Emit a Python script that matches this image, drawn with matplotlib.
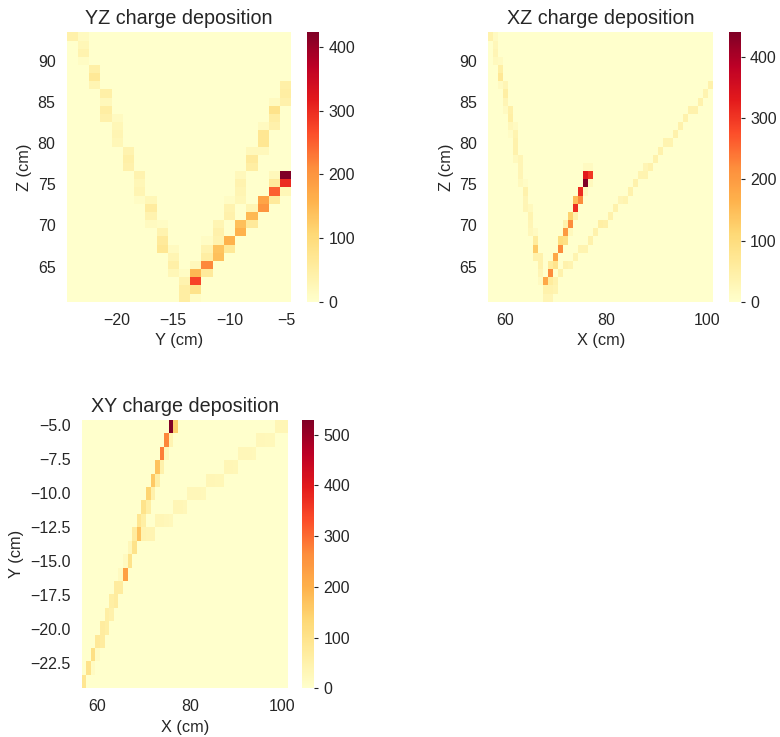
import numpy as np
import matplotlib
matplotlib.use("Agg")
import matplotlib.pyplot as plt

plt.rcParams["font.family"] = ["Liberation Sans", "DejaVu Sans"]
TEXT = "#262626"
plt.rcParams["text.color"] = TEXT
plt.rcParams["axes.labelcolor"] = TEXT
plt.rcParams["xtick.color"] = TEXT
plt.rcParams["ytick.color"] = TEXT

# Voxel grid (cm): lower edges and common bin width
X_LO, Y_LO, Z_LO, BIN = 56.7, -24.4, 60.75, 0.99
NX, NY, NZ = 45, 20, 33

# ---- YZ projection: (y bin, z bin, charge) ----
yz_y = [0, 1, 1, 1, 1, 2, 2, 2, 3, 3, 3, 3, 4, 4, 4, 4, 5, 5, 5, 6, 6, 6, 6,
        7, 7, 7, 7, 8, 8, 8, 8, 9, 9, 9, 9, 10, 10, 10, 10,
        19, 19, 19, 18, 18, 18, 18, 17, 17, 17, 17, 16, 16, 16, 15, 15, 15, 15,
        14, 14, 14, 13, 13, 13, 12, 12, 12, 11,
        19, 19, 19, 18, 18, 18, 18, 17, 17, 16, 16, 16, 15, 15, 14, 14, 13, 13,
        12, 12, 11, 11, 11, 11]
yz_z = [32, 32, 31, 30, 29, 28, 27, 26, 25, 24, 23, 22, 22, 21, 20, 19, 18, 17, 16, 15, 14, 13, 12,
        12, 11, 10, 9, 9, 8, 7, 6, 6, 5, 4, 3, 3, 2, 1, 0,
        26, 25, 24, 24, 23, 22, 21, 21, 20, 19, 18, 18, 17, 16, 15, 14, 13, 12,
        12, 11, 10, 9, 8, 7, 7, 6, 5, 4,
        15, 14, 13, 15, 14, 13, 12, 12, 11, 11, 10, 9, 9, 8, 7, 6, 6, 5,
        4, 3, 3, 2, 1, 0]
yz_q = [40, 15, 25, 35, 10, 45, 65, 30, 45, 20, 50, 40, 15, 25, 30, 25, 35, 45, 40, 35, 25, 30, 10,
        25, 55, 35, 15, 10, 35, 60, 70, 15, 30, 45, 25, 10, 35, 50, 50,
        45, 50, 40, 15, 80, 50, 40, 15, 70, 70, 20, 20, 60, 50, 20, 35, 30, 25,
        10, 35, 40, 30, 40, 35, 10, 35, 50, 20,
        423, 300, 25, 20, 60, 250, 60, 180, 200, 30, 150, 60, 140, 160, 160, 65, 135, 140,
        215, 60, 150, 275, 80, 10]

# ---- XZ projection: (x bin, z bin, charge) ----
xz_x = [0, 1, 1, 1, 1, 2, 2, 2, 2, 3, 3, 3, 3, 4, 4, 4, 4, 5, 5, 5, 5, 5, 6, 6, 6, 6,
        7, 7, 7, 7, 8, 8, 8, 8, 9, 9, 9, 9, 10, 10, 10, 10, 11, 11, 11,
        12, 12, 12, 12, 12, 13, 13, 14, 14, 15, 15, 16, 15, 16, 16, 17, 17, 17, 18, 18,
        19, 19, 20, 19, 20, 19, 20,
        13, 13, 14, 15, 16, 17, 18, 19, 20, 21, 22, 23, 24, 25, 26, 27, 28, 29, 30, 31,
        31, 32, 33, 34, 35, 36, 37, 38, 39, 40, 41, 42, 43, 44]
xz_z = [32, 32, 31, 30, 29, 29, 28, 27, 26, 26, 25, 24, 23, 23, 22, 21, 20, 21, 20, 19, 18, 17, 17, 16, 15, 14,
        14, 13, 12, 11, 11, 10, 9, 8, 8, 7, 6, 5, 5, 4, 3, 2, 2, 1, 0,
        0, 1, 2, 3, 4, 4, 5, 6, 7, 7, 8, 8, 9, 9, 10, 10, 11, 12, 12, 13,
        13, 14, 14, 15, 15, 16, 16,
        1, 2, 3, 4, 4, 5, 6, 6, 7, 8, 9, 9, 10, 11, 12, 12, 13, 14, 15, 15,
        16, 16, 17, 18, 19, 19, 20, 21, 22, 23, 23, 24, 25, 26]
xz_q = [40, 15, 25, 30, 20, 15, 50, 70, 15, 30, 50, 30, 15, 45, 50, 25, 10, 15, 35, 40, 40, 20, 30, 30, 30, 20,
        10, 40, 30, 30, 20, 35, 30, 25, 15, 60, 130, 40, 40, 40, 30, 15, 180, 40, 30,
        30, 40, 60, 220, 60, 80, 180, 220, 100, 90, 200, 20, 40, 220, 120, 40, 310, 150, 220, 310,
        20, 440, 20, 330, 300, 15, 15,
        35, 40, 40, 40, 35, 35, 35, 35, 40, 40, 50, 45, 40, 40, 30, 35, 40, 40, 35, 35,
        30, 40, 40, 40, 35, 35, 40, 40, 40, 40, 40, 40, 35, 40]

# ---- XY projection: (x bin, y bin, charge) ----
xy_x = [0, 1, 2, 2, 3, 3, 4, 4, 5, 5, 6, 6, 7, 7, 8, 8, 9, 9, 10, 10, 11, 11, 12, 12,
        13, 13, 14, 14, 15, 15, 16, 16, 17, 17, 18, 18, 19, 19, 20,
        13, 14, 15, 16, 17, 18, 19, 20, 21, 22, 23, 24, 25, 26, 27, 28, 29, 30,
        31, 32, 33, 34, 35, 36, 37, 38, 39, 40, 41, 42, 43, 44]
xy_y = [0, 1, 1, 2, 2, 3, 3, 4, 4, 5, 5, 6, 6, 7, 7, 8, 8, 9, 9, 10, 10, 11, 11, 12,
        12, 13, 13, 14, 14, 15, 15, 16, 16, 17, 17, 18, 18, 19, 19,
        11, 11, 11, 12, 12, 12, 12, 13, 13, 13, 14, 14, 14, 14, 15, 15, 15, 15,
        16, 16, 16, 17, 17, 17, 17, 18, 18, 18, 18, 19, 19, 19]
xy_q = [90, 100, 15, 110, 15, 80, 70, 70, 60, 60, 50, 60, 70, 70, 70, 20, 230, 20, 100, 30, 100, 70, 170, 90,
        60, 100, 60, 140, 50, 160, 60, 170, 50, 280, 30, 270, 40, 529, 150,
        45, 40, 40, 35, 35, 30, 25, 35, 35, 30, 30, 30, 30, 28, 35, 35, 32, 32,
        35, 35, 32, 30, 30, 30, 28, 30, 30, 28, 28, 35, 35, 35]

x_edges = X_LO + BIN * np.arange(NX + 1)
y_edges = Y_LO + BIN * np.arange(NY + 1)
z_edges = Z_LO + BIN * np.arange(NZ + 1)


def grid(cols, rows, q, ncol, nrow):
    g = np.zeros((nrow, ncol))
    np.add.at(g, (np.asarray(rows), np.asarray(cols)), np.asarray(q, float))
    return g


panels = [
    ("YZ charge deposition", y_edges, z_edges, grid(yz_y, yz_z, yz_q, NY, NZ),
     "Y (cm)", "Z (cm)", [0.0855, 0.5906, 0.2879, 0.3655], [0.394, 0.5906, 0.0154, 0.3655],
     [-20, -15, -10, -5], [65, 70, 75, 80, 85, 90], [0, 100, 200, 300, 400]),
    ("XZ charge deposition", x_edges, z_edges, grid(xz_x, xz_z, xz_q, NX, NZ),
     "X (cm)", "Z (cm)", [0.6260, 0.5906, 0.2885, 0.3655], [0.935, 0.5906, 0.0146, 0.3655],
     [60, 80, 100], [65, 70, 75, 80, 85, 90], [0, 100, 200, 300, 400]),
    ("XY charge deposition", x_edges, y_edges, grid(xy_x, xy_y, xy_q, NX, NY),
     "X (cm)", "Y (cm)", [0.1047, 0.0661, 0.2649, 0.3640], [0.3876, 0.0661, 0.0154, 0.3640],
     [60, 80, 100], [-22.5, -20.0, -17.5, -15.0, -12.5, -10.0, -7.5, -5.0],
     [0, 100, 200, 300, 400, 500]),
]

fig = plt.figure(figsize=(7.8, 7.37), dpi=100)
for title, xe, ye, h, xl, yl, rect, crect, xt, yt, ct in panels:
    ax = fig.add_axes(rect)
    mesh = ax.pcolormesh(xe, ye, h, cmap="YlOrRd", vmin=0, vmax=h.max(),
                         shading="flat", linewidth=0, rasterized=False)
    ax.set_xlim(xe[0], xe[-1])
    ax.set_ylim(ye[0], ye[-1])
    ax.set_xticks(xt)
    ax.set_yticks(yt)
    if isinstance(yt[0], float):
        ax.set_yticklabels([f"{v:.1f}".replace("-", "\u2212") for v in yt])
    ax.tick_params(length=0, pad=8, labelsize=11.5)
    for s in ax.spines.values():
        s.set_visible(False)
    ax.set_title(title, fontsize=14.2, color=TEXT)
    ax.set_xlabel(xl, fontsize=11.8)
    ax.set_ylabel(yl, fontsize=11.8)

    cax = fig.add_axes(crect)
    cb = fig.colorbar(mesh, cax=cax, ticks=ct)
    cb.outline.set_visible(False)
    cax.tick_params(length=3.2, width=0.8, pad=3.5, labelsize=11.5, color=TEXT)

fig.savefig("out.png", dpi=100, facecolor="white")
